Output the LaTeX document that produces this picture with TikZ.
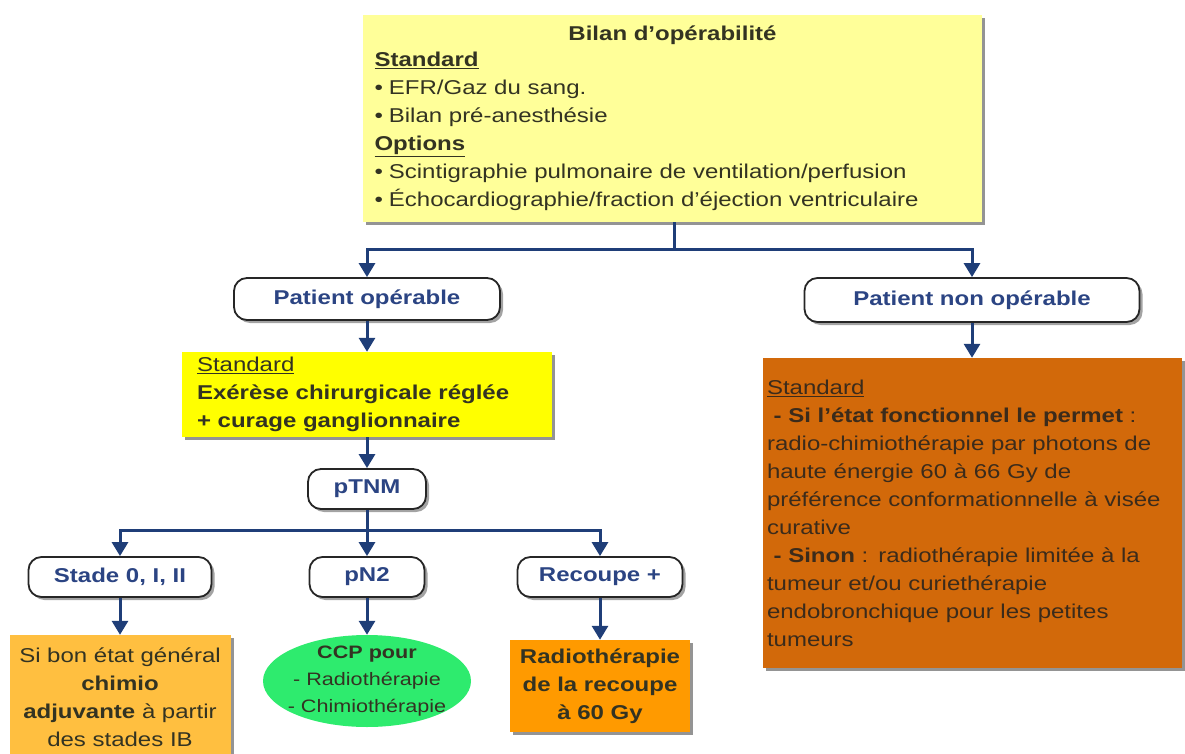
\documentclass[tikz,border=0pt]{standalone}
\usepackage{fontspec}
\setmainfont{Liberation Sans}[FakeStretch=1.2]
\usetikzlibrary{arrows.meta,shapes.geometric,shadows}

\definecolor{topfill}{HTML}{FFFF99}
\definecolor{stdyellow}{HTML}{FFFF00}
\definecolor{leftorange}{HTML}{FFBF40}
\definecolor{ccpgreen}{HTML}{2EEB6E}
\definecolor{radioorange}{HTML}{FF9A00}
\definecolor{rightorange}{HTML}{D2690A}
\definecolor{linkblue}{HTML}{1F3E78}
\definecolor{pillblue}{HTML}{2B4483}
\definecolor{txt}{HTML}{333322}
\definecolor{rtxt}{HTML}{3B2B1B}

\begin{document}
\begin{tikzpicture}[x=1pt,y=-1pt,
    font=\fontsize{20}{28}\selectfont,
    box/.style={inner sep=0pt, text=txt,
      drop shadow={shadow xshift=3pt, shadow yshift=-3pt, opacity=.7, fill=black!60}},
    pill/.style={draw=black!85, line width=1.8pt, rounded corners=13pt, fill=white,
      text=pillblue, font=\fontsize{20}{28}\selectfont\bfseries,
      drop shadow={shadow xshift=3pt, shadow yshift=-3pt, opacity=.6, fill=black!60}},
    link/.style={draw=linkblue, line width=3pt},
    arr/.style={link, -{Triangle[width=16pt,length=14pt]}}]

    \useasboundingbox (0,0) rectangle (1185,754);

    % work-up box
    \node[box, fill=topfill, minimum width=619pt, minimum height=207pt, align=left] (bilan) at (672.5,118.5)
        {\makebox[596pt]{\textbf{Bilan d'opérabilité}}\\[-2pt]
         \textbf{\underline{Standard}}\\
         \textbullet\hspace{6pt}EFR/Gaz du sang.\\
         \textbullet\hspace{6pt}Bilan pré-anesthésie\\
         \textbf{\underline{Options}}\\
         \textbullet\hspace{6pt}Scintigraphie pulmonaire de ventilation/perfusion\\
         \textbullet\hspace{6pt}Échocardiographie/fraction d'éjection ventriculaire};
    \coordinate (fork1) at (674,249);

    % operable branch
    \node[pill, minimum width=266pt, minimum height=42pt] (op) at (367,299) {Patient opérable};
    \node[box, fill=stdyellow, minimum width=370pt, minimum height=85pt, text width=340pt, align=left] (exerese) at (367,394.5)
        {\underline{Standard}\\
         \textbf{Exérèse chirurgicale réglée}\\
         \textbf{+ curage ganglionnaire}};
    \node[pill, minimum width=118pt, minimum height=40pt] (ptnm) at (367,489) {pTNM};
    \coordinate (fork2) at (367,530);

    \node[pill, minimum width=183pt, minimum height=40pt] (stade) at (120,577) {Stade 0, I, II};
    \node[pill, minimum width=115pt, minimum height=40pt] (pn2) at (367,577) {pN2};
    \node[pill, minimum width=165pt, minimum height=40pt] (recoupe) at (600,577) {Recoupe +};

    \node[box, fill=leftorange, minimum width=221pt, minimum height=125pt, align=center] (chimio) at (120,697.5)
        {Si bon état général\\ \textbf{chimio}\\ \textbf{adjuvante} à partir\\ des stades IB};
    \node[ellipse, fill=ccpgreen, minimum width=208pt, minimum height=92pt, inner xsep=-12pt, inner ysep=-12pt,
        text=txt, align=center, font=\fontsize{18}{27}\selectfont] (ccp) at (367,681)
        {\textbf{CCP pour}\\ - Radiothérapie\\ - Chimiothérapie};
    \node[box, fill=radioorange, minimum width=180pt, minimum height=92pt, align=center, font=\fontsize{20}{28}\selectfont\bfseries] (radio) at (600,686)
        {Radiothérapie\\ de la recoupe\\ à 60 Gy};

    % non operable branch
    \node[pill, minimum width=335pt, minimum height=44pt] (nonop) at (972,300) {Patient non opérable};
    \node[box, fill=rightorange, text=rtxt, minimum width=419pt, minimum height=310pt, text width=410pt, align=left] (nonstd) at (972,513)
        {\underline{Standard}\\
         \ \textbf{- Si l'état fonctionnel le permet} :\\
         radio-chimiothérapie par photons de\\
         haute énergie 60 à 66 Gy de\\
         préférence conformationnelle à visée\\
         curative\\
         \ \textbf{- Sinon} : radiothérapie limitée à la\\
         tumeur et/ou curiethérapie\\
         endobronchique pour les petites\\
         tumeurs};

    % connectors
    \draw[link] (bilan.south -| fork1) -- (fork1);
    \draw[arr] (fork1) -| (op.north);
    \draw[arr] (fork1) -| (nonop.north);
    \draw[arr] (op) -- (exerese);
    \draw[arr] (exerese) -- (ptnm);
    \draw[link] (ptnm) -- (fork2);
    \draw[arr] (fork2) -| (stade.north);
    \draw[arr] (fork2) -- (pn2);
    \draw[arr] (fork2) -| (recoupe.north);
    \draw[arr] (stade) -- (chimio);
    \draw[arr] (pn2) -- (ccp);
    \draw[arr] (recoupe) -- (radio);
    \draw[arr] (nonop) -- (nonstd);
\end{tikzpicture}
\end{document}
